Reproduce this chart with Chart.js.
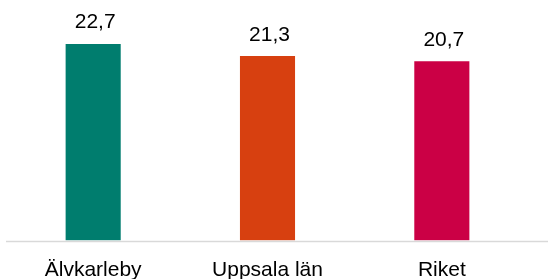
<!DOCTYPE html>
<html>
<head>
<meta charset="utf-8">
<script src="https://cdn.jsdelivr.net/npm/chart.js@4"></script>
<style>
  html, body { margin: 0; padding: 0; background: #fff; }
  #wrap { width: 548px; height: 279px; }
</style>
</head>
<body>
<div id="wrap"><canvas id="chart"></canvas></div>
<script>
const categories = ['Älvkarleby', 'Uppsala län', 'Riket'];
const values = [22.7, 21.3, 20.7];
const barColors = ['#007D6E', '#D74010', '#CB0045'];

// Linje under staplarna, hela vägen till högerkanten
const axisLine = {
    id: 'axisLine',
    afterDatasetsDraw(chart) {
        const ctx = chart.ctx;
        const y = chart.chartArea.bottom + 1;
        ctx.save();
        ctx.strokeStyle = '#D9D9D9';
        ctx.lineWidth = 1.6;
        ctx.beginPath();
        ctx.moveTo(chart.chartArea.left, y);
        ctx.lineTo(chart.width, y);
        ctx.stroke();
        ctx.restore();
    }
};

// Värdeetiketter ovanför staplarna
const valueLabels = {
    id: 'valueLabels',
    afterDatasetsDraw(chart) {
        const ctx = chart.ctx;
        const meta = chart.getDatasetMeta(0);
        ctx.save();
        ctx.fillStyle = '#000';
        ctx.font = '21px "Liberation Sans", Arial, sans-serif';
        ctx.textAlign = 'center';
        ctx.textBaseline = 'alphabetic';
        meta.data.forEach((bar, i) => {
            const txt = values[i].toFixed(1).replace('.', ',');
            ctx.fillText(txt, bar.x + 2, bar.y - 15.5);
        });
        ctx.restore();
    }
};

new Chart(document.getElementById('chart'), {
    type: 'bar',
    data: {
        labels: categories,
        datasets: [{
            data: values,
            backgroundColor: barColors,
            borderWidth: 0,
            barPercentage: 0.316,
            categoryPercentage: 1
        }]
    },
    options: {
        responsive: true,
        maintainAspectRatio: false,
        animation: false,
        layout: { padding: { left: 6, right: 19, top: 24, bottom: 0 } },
        plugins: { legend: { display: false }, tooltip: { enabled: false } },
        scales: {
            x: {
                grid: { display: false, drawTicks: false },
                border: { display: false },
                ticks: {
                    color: '#000',
                    padding: 17,
                    font: { family: '"Liberation Sans", Arial, sans-serif', size: 21 }
                },
                afterFit: (scale) => { scale.height = 38.5; }
            },
            y: {
                display: false,
                min: 0,
                max: 25
            }
        }
    },
    plugins: [axisLine, valueLabels]
});
</script>
</body>
</html>
